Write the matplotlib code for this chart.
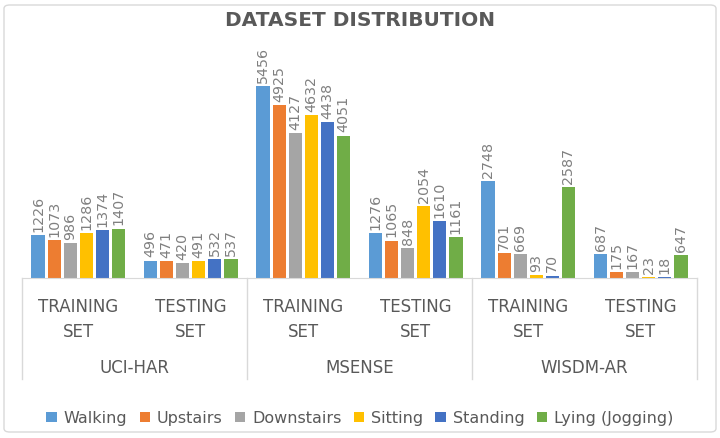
import matplotlib
matplotlib.use('Agg')
import matplotlib.pyplot as plt
from matplotlib.patches import FancyBboxPatch
import numpy as np

datasets = ['UCI-HAR', 'MSENSE', 'WISDM-AR']
splits = ['TRAINING\nSET', 'TESTING\nSET']
activities = ['Walking', 'Upstairs', 'Downstairs', 'Sitting', 'Standing', 'Lying (Jogging)']
colors = ['#5B9BD5', '#ED7D31', '#A5A5A5', '#FFC000', '#4472C4', '#70AD47']

walking = [1226, 496, 5456, 1276, 2748, 687]
upstairs = [1073, 471, 4925, 1065, 701, 175]
downstairs = [986, 420, 4127, 848, 669, 167]
sitting = [1286, 491, 4632, 2054, 93, 23]
standing = [1374, 532, 4438, 1610, 70, 18]
lying = [1407, 537, 4051, 1161, 2587, 647]
series = [walking, upstairs, downstairs, sitting, standing, lying]

label_gray = '#595959'
line_gray = '#d9d9d9'

fig = plt.figure(figsize=(7.2, 4.39), dpi=100)
ax = fig.add_axes([22 / 720, 160 / 439, 675 / 720, 246 / 439])

x = np.arange(len(walking))
pitch = 1 / 7
for i, (vals, c, name) in enumerate(zip(series, colors, activities)):
    pos = x + (i - 2.5) * pitch
    bars = ax.bar(pos, vals, width=pitch * 0.82, color=c, label=name, zorder=2)
    for b, v in zip(bars, vals):
        ax.annotate(str(v), (b.get_x() + b.get_width() / 2, v), xytext=(0, 3),
                    textcoords='offset points', rotation=90, ha='center', va='bottom',
                    fontsize=10.3, color='#808080')

ax.set_xlim(-0.5, 5.5)
ax.set_ylim(0, 7000)
ax.set_yticks([])
ax.set_xticks([])
for s in ['top', 'right', 'left']:
    ax.spines[s].set_visible(False)
ax.spines['bottom'].set_color(line_gray)

# two-level category axis
trans = ax.get_xaxis_transform()
px = 1 / 246
for k in range(len(walking)):
    ax.text(k, -19 * px, splits[k % 2], transform=trans, ha='center', va='top',
            fontsize=12, color=label_gray, linespacing=1.5, clip_on=False)
for j, name in enumerate(datasets):
    ax.text(2 * j + 0.5, -89 * px, name, transform=trans, ha='center', va='center',
            fontsize=12, color=label_gray, clip_on=False)
for xv in [-0.5, 1.5, 3.5, 5.5]:
    ax.plot([xv, xv], [0, -101 * px], transform=trans, color=line_gray, lw=1,
            clip_on=False)

fig.text(0.5, 1 - 20 / 439, 'DATASET DISTRIBUTION', ha='center', va='center',
         fontsize=14.5, fontweight='bold', color=label_gray)

fig.legend(loc='center', bbox_to_anchor=(0.5, 20 / 439), ncol=6, frameon=False,
           fontsize=11.5, handlelength=0.65, handleheight=0.65, handletextpad=0.45,
           columnspacing=0.75, labelcolor=label_gray)

border = FancyBboxPatch((4 / 720, 6 / 439), 712 / 720, 427 / 439,
                        boxstyle='round,pad=0,rounding_size=0.008',
                        transform=fig.transFigure, fill=False, edgecolor=line_gray, lw=1)
fig.patches.append(border)

fig.savefig('out.png', dpi=100)
